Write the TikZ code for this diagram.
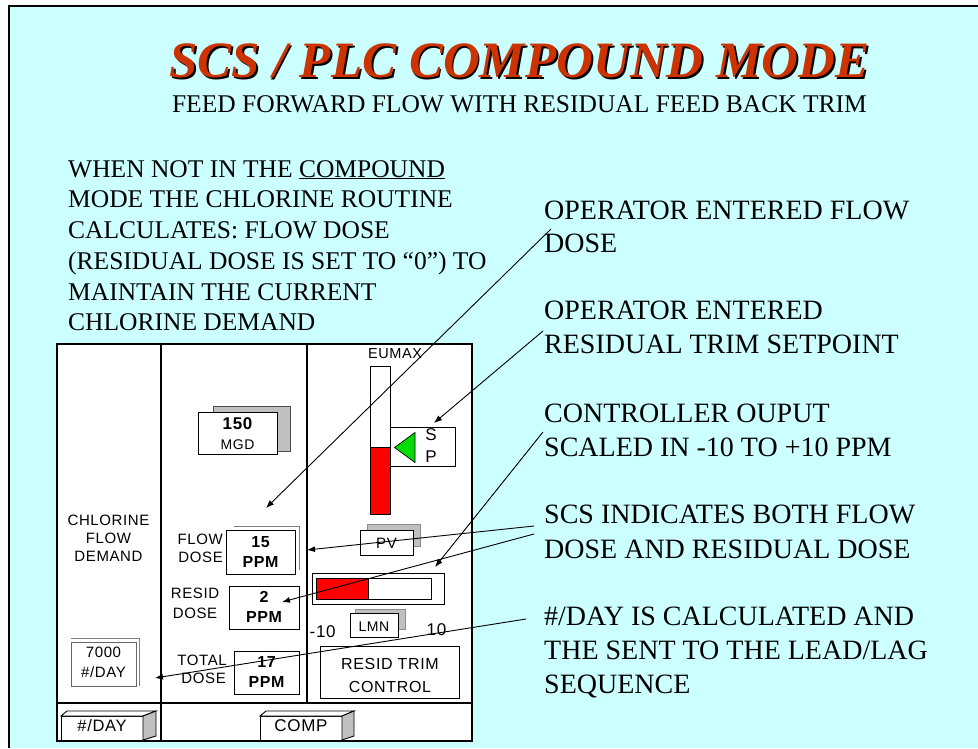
\documentclass[tikz,border=0pt]{standalone}
\usepackage{fontspec}
\setmainfont{Liberation Serif}
\newfontfamily\arial[LetterSpace=4]{Liberation Sans}
\usetikzlibrary{arrows.meta}
\definecolor{bgc}{RGB}{204,255,255}
\definecolor{titlec}{RGB}{204,51,0}
\definecolor{shg}{RGB}{192,192,192}
\definecolor{barred}{RGB}{255,0,0}
\definecolor{spgreen}{RGB}{0,220,0}
\newcommand{\titletext}{SCS / PLC COMPOUND MODE}
\tikzset{
  bigtxt/.style={inner sep=0pt, anchor=base west, font=\fontsize{28}{33}\selectfont},
  lefttxt/.style={inner sep=0pt, anchor=base west, font=\fontsize{25.5}{30}\selectfont},
  ptxt/.style={inner sep=0pt, anchor=base, font=\arial\fontsize{15}{18}\selectfont},
  pbold/.style={inner sep=0pt, anchor=base, font=\arial\bfseries\fontsize{16}{19}\selectfont},
  frontbox/.style={draw=black, fill=white, line width=0.9pt},
  shadowbox/.style={draw=black!70, fill=shg, line width=0.7pt},
  thinshadow/.style={draw=black!50, line width=0.8pt},
  panelline/.style={draw=black, line width=1.3pt},
  callout/.style={draw=black, line width=0.9pt, -{Latex[length=8pt,width=6pt]}}
}
\begin{document}
\begin{tikzpicture}[x=1pt,y=-1pt]
\useasboundingbox (0,0) rectangle (978,748);
\fill[white] (0,0) rectangle (978,748);
\fill[bgc] (9,6) rectangle (978,748);
\draw[line width=1.2pt] (9,748) -- (9,6) -- (978,6);

% title (with drop shadow in the same node)
\node[inner sep=0pt, anchor=base, font=\fontsize{51}{60}\selectfont\bfseries\itshape] (title) at (519.5,77)
  {\makebox[0pt][l]{\hspace*{2pt}\raisebox{-2pt}{\textcolor{black}{\titletext}}}\textcolor{titlec}{\titletext}};
\node[inner sep=0pt, anchor=base, font=\fontsize{25.5}{30}\selectfont] (subtitle) at (519.5,112) {FEED FORWARD FLOW WITH RESIDUAL FEED BACK TRIM};

% left note
\node[lefttxt] (l1) at (68,177) {WHEN NOT IN THE \underline{COMPOUND}};
\node[lefttxt] (l2) at (68,207.5) {MODE THE CHLORINE ROUTINE};
\node[lefttxt] (l3) at (68,238.5) {CALCULATES: FLOW DOSE};
\node[lefttxt] (l4) at (68,269.5) {(RESIDUAL DOSE IS SET TO “0”) TO};
\node[lefttxt] (l5) at (68,300) {MAINTAIN THE CURRENT};
\node[lefttxt] (l6) at (68,330.5) {CHLORINE DEMAND};

% right notes
\node[bigtxt] (r1a) at (544,219.5) {OPERATOR ENTERED FLOW};
\node[bigtxt] (r1b) at (544,252) {DOSE};
\node[bigtxt] (r2a) at (544,319.5) {OPERATOR ENTERED};
\node[bigtxt] (r2b) at (544,353.5) {RESIDUAL TRIM SETPOINT};
\node[bigtxt] (r3a) at (544,422) {CONTROLLER OUPUT};
\node[bigtxt] (r3b) at (544,456) {SCALED IN -10 TO +10 PPM};
\node[bigtxt] (r4a) at (544,523.5) {SCS INDICATES BOTH FLOW};
\node[bigtxt] (r4b) at (544,558) {DOSE AND RESIDUAL DOSE};
\node[bigtxt] (r5a) at (544,625) {\#/DAY IS CALCULATED AND};
\node[bigtxt] (r5b) at (544,659.5) {THE SENT TO THE LEAD/LAG};
\node[bigtxt] (r5c) at (544,693.5) {SEQUENCE};

% panel
\fill[white] (57,344) rectangle (472,741);
\draw[panelline] (57,344) rectangle (472,741);
\draw[panelline] (161,344) -- (161,741);
\draw[panelline] (307,344) -- (307,703);
\draw[panelline] (57,703) -- (472,703);

% left column
\node[ptxt] (chl1) at (108.5,525.5) {CHLORINE};
\node[ptxt] (chl2) at (108.5,543.5) {FLOW};
\node[ptxt] (chl3) at (108.5,561) {DEMAND};
\draw[thinshadow] (71,638.5) -- (139.5,638.5) -- (139.5,685.5);
\draw[frontbox, draw=black!60] (71,642) rectangle (136,686);
\node[ptxt] (v7000) at (103.5,657.5) {7000};
\node[ptxt] (vday) at (103.5,677) {\#/DAY};

% middle column
\draw[shadowbox] (213,406) rectangle (290,451);
\draw[frontbox] (198,412) rectangle (277,454);
\node[pbold, font=\arial\bfseries\fontsize{17}{20}\selectfont] (v150) at (237.5,429.5) {150};
\node[ptxt, font=\arial\fontsize{14}{17}\selectfont] (vmgd) at (237.5,449.5) {MGD};

\node[ptxt, anchor=base east] (fl1) at (223,544) {FLOW};
\node[ptxt, anchor=base east] (fl2) at (223,562) {DOSE};
\draw[thinshadow] (234,526) -- (299,526) -- (299,570);
\draw[frontbox, line width=0.8pt] (226,530) rectangle (295,574);
\node[pbold] (v15) at (260.5,547) {15};
\node[pbold] (vppm1) at (260.5,567) {PPM};

\node[ptxt] (rd1) at (195,598.5) {RESID};
\node[ptxt] (rd2) at (195,618.5) {DOSE};
\draw[frontbox, line width=0.8pt] (229,586) rectangle (299,629);
\node[pbold] (v2) at (264,602) {2};
\node[pbold] (vppm2) at (264,622) {PPM};

\node[ptxt, anchor=base east] (td1) at (227,665) {TOTAL};
\node[ptxt, anchor=base east] (td2) at (226,683.5) {DOSE};
\draw[frontbox, line width=0.8pt] (234,651) rectangle (299,694);
\node[pbold] (v17) at (266.5,667) {17};
\node[pbold] (vppm3) at (266.5,687) {PPM};

% right column
\node[ptxt, font=\arial\fontsize{14.5}{17}\selectfont] (eumax) at (395,358.5) {EUMAX};
\draw[frontbox] (370,366) rectangle (390.5,514);
\draw[fill=barred, draw=black, line width=0.9pt] (370,447.5) rectangle (390.5,514);
\draw[frontbox] (390.5,427.5) rectangle (455.5,466.5);
\draw[fill=spgreen, draw=black, line width=0.7pt] (394.5,447.5) -- (415,432.5) -- (415,462.5) -- cycle;
\node[ptxt, font=\arial\fontsize{17}{20}\selectfont] (sps) at (431,440) {S};
\node[ptxt, font=\arial\fontsize{17}{20}\selectfont] (spp) at (431,462.5) {P};

\draw[shadowbox, draw=black!45] (367,524) rectangle (420,546);
\draw[frontbox] (360,530) rectangle (413,555);
\node[ptxt] (pv) at (386.5,548) {PV};

\draw[frontbox] (312.5,573.5) rectangle (444,604.5);
\draw[frontbox] (316,578.5) rectangle (431.5,599.5);
\draw[fill=barred, draw=black, line width=0.9pt] (316,578.5) rectangle (368.5,599.5);

\draw[shadowbox, draw=black!45] (355,609.5) rectangle (405,629.5);
\draw[frontbox] (350,613.5) rectangle (398,637);
\node[ptxt, font=\arial\fontsize{14}{17}\selectfont] (lmn) at (374,631) {LMN};
\node[ptxt, anchor=base west, font=\arial\fontsize{17}{20}\selectfont] (mten) at (309.5,637) {-10};
\node[ptxt, font=\arial\fontsize{17}{20}\selectfont] (pten) at (436.5,635.5) {10};

\draw[frontbox] (320.5,646.5) rectangle (459,698.5);
\node[ptxt, font=\arial\fontsize{16}{19}\selectfont] (rt1) at (390,669.5) {RESID TRIM};
\node[ptxt, font=\arial\fontsize{16}{19}\selectfont] (rt2) at (390,692) {CONTROL};

% bottom strip buttons
\draw[frontbox] (61,716) rectangle (143,740);
\draw[frontbox] (61,716) -- (67,711) -- (156,711) -- (143,716) -- cycle;
\draw[frontbox, fill=shg] (143,716) -- (156,711) -- (156,736) -- (143,740) -- cycle;
\node[ptxt, font=\arial\fontsize{16.5}{19}\selectfont] (bday) at (102,731) {\#/DAY};

\draw[frontbox] (260,716) rectangle (342,740);
\draw[frontbox] (260,716) -- (266,711) -- (354,711) -- (342,716) -- cycle;
\draw[frontbox, fill=shg] (342,716) -- (354,711) -- (354,736) -- (342,740) -- cycle;
\node[ptxt, font=\arial\fontsize{17}{20}\selectfont] (bcomp) at (301,731) {COMP};

% callout arrows
\coordinate (s1) at (551,229);   \coordinate (e1) at (266,508);
\coordinate (s2) at (543,331);   \coordinate (e2) at (434,423);
\coordinate (s3) at (543,432);   \coordinate (e3) at (435,567);
\coordinate (s4) at (534,526);   \coordinate (e4) at (307,550);
\coordinate (s5) at (534,534);   \coordinate (e5) at (282,602);
\coordinate (s6) at (526,619);   \coordinate (e6) at (155,678);
\draw[callout] (s1) -- (e1);
\draw[callout] (s2) -- (e2);
\draw[callout] (s3) -- (e3);
\draw[callout] (s4) -- (e4);
\draw[callout] (s5) -- (e5);
\draw[callout] (s6) -- (e6);
\end{tikzpicture}
\end{document}
